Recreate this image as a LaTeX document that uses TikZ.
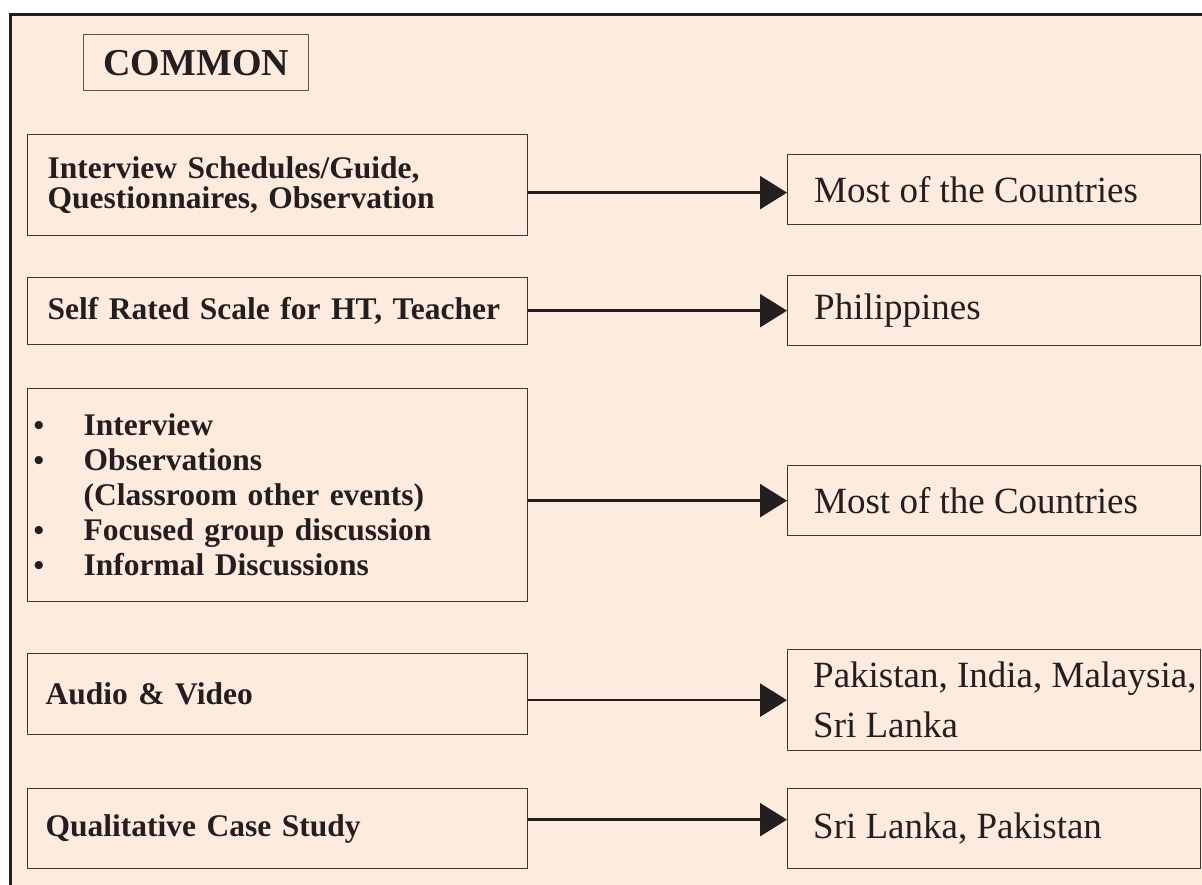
\documentclass[tikz,border=0pt]{standalone}
\usepackage{fontspec}
\setmainfont{Liberation Serif}
\usetikzlibrary{arrows.meta}
\definecolor{peach}{RGB}{253,235,222}
\definecolor{ink}{RGB}{35,31,32}
\definecolor{edgec}{RGB}{62,54,54}
\newcommand\mybul{\makebox[50pt][l]{\hspace*{0pt}\fontsize{30}{30}\selectfont\textbullet}}
\begin{document}
\begin{tikzpicture}[x=1pt,y=-1pt,
  lbox/.style={draw=edgec, line width=1.3pt, anchor=north west, inner ysep=0pt,
    align=left, text=ink, font=\bfseries\fontsize{31.5}{30}\selectfont},
  rbox/.style={draw=edgec, line width=1.3pt, anchor=north west, minimum width=413pt, inner sep=0pt},
  rtext/.style={anchor=west, inner sep=0pt, align=left, text=ink, font=\fontsize{37}{50}\selectfont},
  link/.style={draw=ink, line width=2.6pt, -{Triangle[length=27pt,width=33pt]}}]
\useasboundingbox (0,0) rectangle (1202,885);
\clip (0,0) rectangle (1202,885);
\fill[white] (0,0) rectangle (1202,885);
\draw[line width=3pt, draw=ink, fill=peach] (10.5,14.5) rectangle (1240,930);

\node[draw=edgec!85, line width=1.3pt, anchor=north west, minimum width=225pt, minimum height=56pt,
  inner sep=0pt, text=ink, font=\bfseries\fontsize{38}{38}\selectfont] (common) at (83,34) {COMMON};

\node[lbox, minimum width=500pt, minimum height=101pt, text width=460pt, inner xsep=20pt] (l1) at (27,134)
  {Interview Schedules/Guide,\\ Questionnaires, Observation};
\node[lbox, minimum width=500pt, minimum height=67pt, text width=460pt, inner xsep=20pt] (l2) at (27,277)
  {Self Rated Scale for HT, Teacher};
\node[lbox, minimum width=500pt, minimum height=213pt, text width=488pt, inner xsep=6pt,
  font=\bfseries\fontsize{31.5}{35}\selectfont] (l3) at (27,388)
  {\mybul Interview\\ \mybul Observations\\ \hspace*{50pt}(Classroom other events)\\ \mybul Focused group discussion\\ \mybul Informal Discussions};
\node[lbox, minimum width=500pt, minimum height=81pt, text width=464pt, inner xsep=18pt] (l4) at (27,653)
  {Audio \& Video};
\node[lbox, minimum width=500pt, minimum height=80pt, text width=464pt, inner xsep=18pt] (l5) at (27,788)
  {Qualitative Case Study};

\node[rbox, minimum height=70pt] (r1) at (787,154) {};
\node[rbox, minimum height=70pt] (r2) at (787,275) {};
\node[rbox, minimum height=70pt] (r3) at (787,465) {};
\node[rbox, minimum height=101pt] (r4) at (787,649) {};
\node[rbox, minimum height=80pt] (r5) at (787,788) {};

\node[rtext] (t1) at ([xshift=27pt]r1.west) {Most of the Countries};
\node[rtext] (t2) at ([xshift=27pt]r2.west) {Philippines};
\node[rtext] (t3) at ([xshift=27pt]r3.west) {Most of the Countries};
\node[rtext] (t4) at ([xshift=26pt]r4.west) {Pakistan, India, Malaysia,\\ Sri Lanka};
\node[rtext] (t5) at ([xshift=26pt]r5.west) {Sri Lanka, Pakistan};

\draw[link] ([yshift=-3pt]r1.west -| l1.east) -- ([yshift=-3pt]r1.west);
\draw[link] (l2.east |- r2.west) -- (r2.west);
\draw[link] (l3.east |- r3.west) -- (r3.west);
\draw[link] (l4.east |- r4.west) -- (r4.west);
\draw[link] ([yshift=9pt]l5.east) -- ([yshift=9pt]r5.west);
\end{tikzpicture}
\end{document}
